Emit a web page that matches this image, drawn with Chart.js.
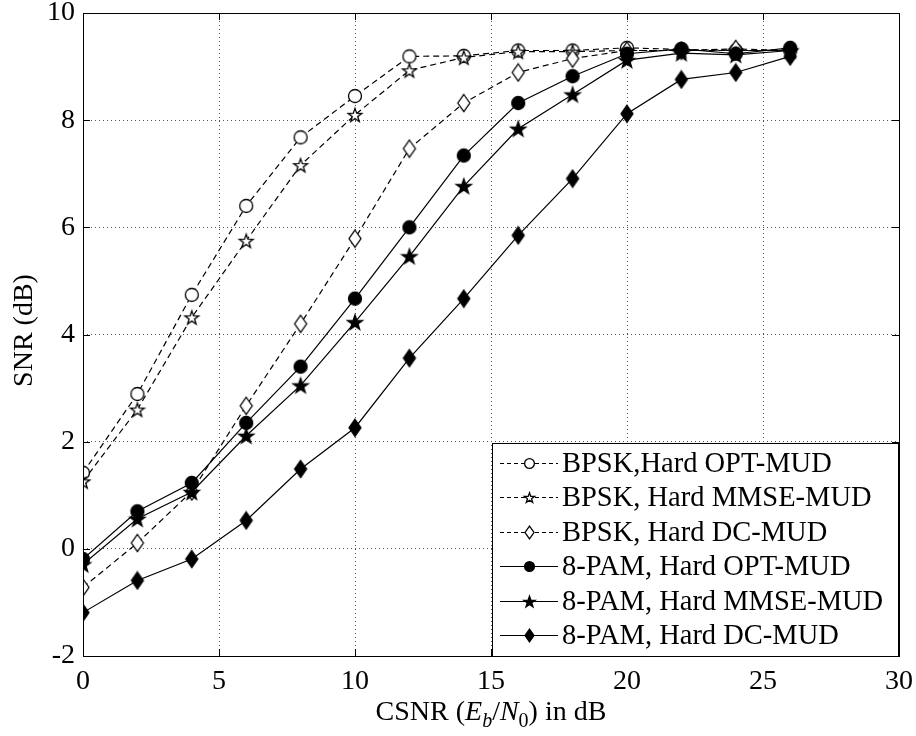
<html>
<head>
    <title>SNR vs CSNR</title>
    <script src="https://cdn.jsdelivr.net/npm/chart.js"></script>
    <style>
        body { margin: 0; background: #fff; }
        #wrap { width: 916px; height: 736px; }
    </style>
</head>
<body>
    <div id="wrap"><canvas id="snrChart" width="916" height="736"></canvas></div>

    <script>
        // CSNR points (dB)
        const csnr = [0, 2, 4, 6, 8, 10, 12, 14, 16, 18, 20, 22, 24, 26];

        // SNR values
        const bpskOpt  = [1.42, 2.89, 4.74, 6.40, 7.68, 8.45, 9.19, 9.20, 9.30, 9.30, 9.35, 9.32, 9.30, 9.30];
        const bpskMmse = [1.26, 2.60, 4.32, 5.75, 7.16, 8.10, 8.93, 9.17, 9.28, 9.28, 9.30, 9.30, 9.30, 9.30];
        const bpskDc   = [-0.72, 0.11, 1.07, 2.67, 4.20, 5.79, 7.47, 8.32, 8.89, 9.15, 9.30, 9.30, 9.33, 9.30];
        const pamOpt   = [-0.19, 0.70, 1.23, 2.35, 3.40, 4.67, 6.00, 7.34, 8.32, 8.82, 9.24, 9.33, 9.24, 9.35];
        const pamMmse  = [-0.29, 0.56, 1.06, 2.11, 3.05, 4.23, 5.46, 6.77, 7.84, 8.48, 9.12, 9.25, 9.22, 9.30];
        const pamDc    = [-1.19, -0.59, -0.19, 0.53, 1.49, 2.26, 3.56, 4.67, 5.85, 6.91, 8.12, 8.76, 8.89, 9.19];

        const labels = [
            'BPSK,Hard OPT-MUD',
            'BPSK, Hard MMSE-MUD',
            'BPSK, Hard DC-MUD',
            '8-PAM, Hard OPT-MUD',
            '8-PAM, Hard MMSE-MUD',
            '8-PAM, Hard DC-MUD'
        ];

        const xTicks = [0, 5, 10, 15, 20, 25, 30];
        const yTicks = [-2, 0, 2, 4, 6, 8, 10];

        const FONT = '"Liberation Serif", "Times New Roman", serif';

        // marker images, drawn once and handed to chart.js as pointStyle
        function makeMarker(shape, filled, k) {
            const s = Math.ceil(20 * k);
            const c = document.createElement('canvas');
            c.width = s; c.height = s;
            const g = c.getContext('2d');
            const m = s / 2;
            g.beginPath();
            if (shape === 'circle') {
                g.arc(m, m, 6.5 * k, 0, Math.PI * 2);
            } else if (shape === 'diamond') {
                g.moveTo(m, m - 8.5 * k);
                g.lineTo(m + 6 * k, m);
                g.lineTo(m, m + 8.5 * k);
                g.lineTo(m - 6 * k, m);
                g.closePath();
            } else if (shape === 'star') {
                const ro = (filled ? 8 : 7.2) * k, ri = ro * 0.4;
                for (let i = 0; i < 10; i++) {
                    const r = i % 2 === 0 ? ro : ri;
                    const a = -Math.PI / 2 + i * Math.PI / 5;
                    const px = m + r * Math.cos(a), py = m + 0.8 * k + r * Math.sin(a);
                    if (i === 0) g.moveTo(px, py); else g.lineTo(px, py);
                }
                g.closePath();
            }
            g.fillStyle = filled ? '#000' : '#fff';
            g.fill();
            g.lineWidth = 1.3;
            g.strokeStyle = '#000';
            g.stroke();
            return c;
        }

        const shapes = ['circle', 'star', 'diamond', 'circle', 'star', 'diamond'];
        const markers = shapes.map((sh, i) => makeMarker(sh, i >= 3, 1));
        const legendMarkers = shapes.map((sh, i) => makeMarker(sh, i >= 3, 0.75));

        const series = [bpskOpt, bpskMmse, bpskDc, pamOpt, pamMmse, pamDc];

        const datasets = series.map((vals, i) => ({
            label: labels[i],
            data: csnr.map((x, k) => ({ x: x, y: vals[k] })),
            borderColor: '#000',
            borderWidth: 1.2,
            borderDash: i < 3 ? [6, 4] : [],
            pointStyle: markers[i],
            pointRadius: 7,
            fill: false,
            tension: 0,
            order: -i
        }));

        // box, inward ticks, legend and the axis titles
        const decor = {
            id: 'decor',
            afterDraw(chart) {
                const ctx = chart.ctx;
                const a = chart.chartArea;
                const xs = chart.scales.x, ys = chart.scales.y;
                ctx.save();
                ctx.strokeStyle = '#000';
                ctx.lineWidth = 1;
                ctx.setLineDash([]);
                ctx.beginPath();
                xTicks.forEach(v => {
                    const p = Math.round(xs.getPixelForValue(v)) + 0.5;
                    ctx.moveTo(p, a.bottom); ctx.lineTo(p, a.bottom - 7);
                    ctx.moveTo(p, a.top); ctx.lineTo(p, a.top + 7);
                });
                yTicks.forEach(v => {
                    const p = Math.round(ys.getPixelForValue(v)) + 0.5;
                    ctx.moveTo(a.left, p); ctx.lineTo(a.left + 7, p);
                    ctx.moveTo(a.right, p); ctx.lineTo(a.right - 7, p);
                });
                ctx.stroke();
                ctx.strokeRect(Math.round(a.left) + 0.5, Math.round(a.top) + 0.5,
                    Math.round(a.right - a.left), Math.round(a.bottom - a.top));

                // legend
                const lx = 492, ly = 443, lw = 406, lh = 213;
                ctx.fillStyle = '#fff';
                ctx.fillRect(lx, ly, lw, lh);
                ctx.strokeRect(lx + 0.5, ly + 0.5, lw, lh);
                ctx.font = '28.5px ' + FONT;
                ctx.textBaseline = 'middle';
                ctx.textAlign = 'left';
                labels.forEach((t, i) => {
                    const cy = Math.round(ly + 20 + i * 34.4) + 0.5;
                    ctx.beginPath();
                    ctx.setLineDash(i < 3 ? [4, 3] : []);
                    ctx.moveTo(500, cy); ctx.lineTo(558, cy);
                    ctx.stroke();
                    ctx.setLineDash([]);
                    const mk = legendMarkers[i];
                    ctx.drawImage(mk, Math.round(529 - mk.width / 2), Math.round(cy - mk.height / 2));
                    ctx.fillStyle = '#000';
                    ctx.fillText(t, 562, cy + 1);
                });

                // x axis title: CSNR (E_b/N_0) in dB
                const parts = [
                    { t: 'CSNR (', f: '28px ' + FONT, dy: 0 },
                    { t: 'E', f: 'italic 28px ' + FONT, dy: 0 },
                    { t: 'b', f: 'italic 20px ' + FONT, dy: 7 },
                    { t: '/', f: '28px ' + FONT, dy: 0 },
                    { t: 'N', f: 'italic 28px ' + FONT, dy: 0 },
                    { t: '0', f: '20px ' + FONT, dy: 7 },
                    { t: ') in dB', f: '28px ' + FONT, dy: 0 }
                ];
                let total = 0;
                parts.forEach(p => { ctx.font = p.f; p.w = ctx.measureText(p.t).width; total += p.w; });
                let x = (a.left + a.right) / 2 - total / 2;
                ctx.textBaseline = 'alphabetic';
                ctx.fillStyle = '#000';
                parts.forEach(p => {
                    ctx.font = p.f;
                    ctx.fillText(p.t, x, 720 + p.dy);
                    x += p.w;
                });

                // y axis title
                ctx.translate(32, (a.top + a.bottom) / 2 - 4);
                ctx.rotate(-Math.PI / 2);
                ctx.font = '28px ' + FONT;
                ctx.textAlign = 'center';
                ctx.fillText('SNR (dB)', 0, 0);
                ctx.restore();
            }
        };

        new Chart(document.getElementById('snrChart'), {
            type: 'line',
            data: { datasets: datasets },
            options: {
                responsive: false,
                animation: false,
                layout: { padding: { top: 13, right: 17, left: 0, bottom: 0 } },
                plugins: {
                    legend: { display: false },
                    tooltip: { enabled: false }
                },
                scales: {
                    x: {
                        type: 'linear',
                        min: 0,
                        max: 30,
                        afterBuildTicks: s => { s.ticks = xTicks.map(v => ({ value: v })); },
                        afterFit: s => { s.height = 80; s.paddingLeft = 0; s.paddingRight = 0; },
                        border: { display: false, dash: [1, 3] },
                        grid: {
                            color: '#555',
                            lineWidth: 1,
                            drawTicks: false,
                            tickLength: 0
                        },
                        ticks: {
                            color: '#000',
                            padding: 9,
                            maxRotation: 0,
                            font: { family: FONT, size: 28 }
                        }
                    },
                    y: {
                        type: 'linear',
                        min: -2,
                        max: 10,
                        afterBuildTicks: s => { s.ticks = yTicks.map(v => ({ value: v })); },
                        afterFit: s => { s.width = 83; s.paddingTop = 0; s.paddingBottom = 0; },
                        border: { display: false, dash: [1, 3] },
                        grid: {
                            color: '#555',
                            lineWidth: 1,
                            drawTicks: false,
                            tickLength: 0
                        },
                        ticks: {
                            color: '#000',
                            padding: 8,
                            font: { family: FONT, size: 28 }
                        }
                    }
                }
            },
            plugins: [decor]
        });
    </script>
</body>
</html>
